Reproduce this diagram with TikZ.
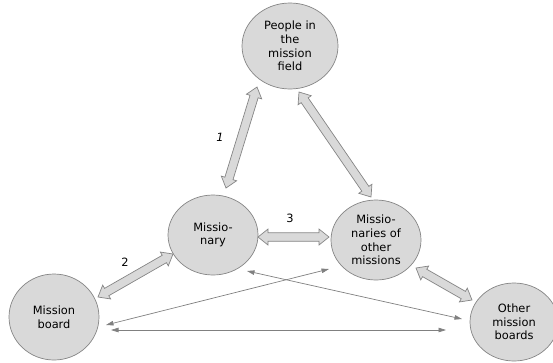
\documentclass[tikz,border=0pt]{standalone}
\usepackage{fontspec}
\setmainfont{DejaVu Sans}
\usetikzlibrary{calc,arrows.meta,shapes.geometric}
\definecolor{fillg}{HTML}{D9D9D9}
\definecolor{lineg}{HTML}{858585}
\definecolor{arrg}{HTML}{808080}
\newcommand\blockarrow[2]{%
  \coordinate (ba-h1) at ($(#1)!10pt!(#2)$);
  \coordinate (ba-h2) at ($(#2)!10pt!(#1)$);
  \draw[barrowstyle] (#1) -- ($(ba-h1)!8pt!90:(#2)$) -- ($(ba-h1)!4.25pt!90:(#2)$)
    -- ($(ba-h2)!4.25pt!-90:(#1)$) -- ($(ba-h2)!8pt!-90:(#1)$) -- (#2)
    -- ($(ba-h2)!8pt!90:(#1)$) -- ($(ba-h2)!4.25pt!90:(#1)$)
    -- ($(ba-h1)!4.25pt!-90:(#2)$) -- ($(ba-h1)!8pt!-90:(#2)$) -- cycle;}
\begin{document}
\begin{tikzpicture}[x=1pt,y=-1pt,
  entity/.style={ellipse, draw=lineg, fill=fillg, line width=0.7pt, inner sep=0pt,
    align=center, font=\fontsize{11.4}{13.6}\selectfont},
  barrowstyle/.style={draw=lineg, fill=fillg, line width=0.7pt, line join=miter},
  thinarrow/.style={draw=arrg, line width=0.7pt, {Triangle[length=7.5pt,width=4.5pt]}-{Triangle[length=7.5pt,width=4.5pt]}},
  lab/.style={font=\fontsize{11.4}{13.6}\selectfont, inner sep=0pt}]
\useasboundingbox (0,0) rectangle (553,362);
\node[entity, minimum width=96pt, minimum height=86pt] (ppl) at (290,46) {People in\\the\\mission\\field};
\node[entity, minimum width=90pt, minimum height=80pt] (miss) at (213,235) {Missio-\\nary};
\node[entity, minimum width=90pt, minimum height=80pt] (mom) at (376,240) {Missio-\\naries of\\other\\missions};
\node[entity, minimum width=90pt, minimum height=86pt] (mb) at (54,317) {Mission\\board};
\node[entity, minimum width=88pt, minimum height=78pt] (omb) at (514,322) {Other\\mission\\boards};
% block arrow end points
\coordinate (b1a) at (257,87);  \coordinate (b1b) at (226,188);
\coordinate (b2a) at (299,92);  \coordinate (b2b) at (371,197);
\coordinate (b3a) at (258,237); \coordinate (b3b) at (329,237);
\coordinate (b4a) at (98,297);  \coordinate (b4b) at (173,254);
\coordinate (b5a) at (416,268); \coordinate (b5b) at (472,300);
\blockarrow{b1a}{b1b}
\blockarrow{b2a}{b2b}
\blockarrow{b3a}{b3b}
\blockarrow{b4a}{b4b}
\blockarrow{b5a}{b5b}
% thin arrows
\coordinate (t1a) at (106,325); \coordinate (t1b) at (329,269);
\coordinate (t2a) at (247,271); \coordinate (t2b) at (462,319);
\coordinate (t3a) at (111,330); \coordinate (t3b) at (446,330);
\draw[thinarrow] (t1a) -- (t1b);
\draw[thinarrow] (t2a) -- (t2b);
\draw[thinarrow] (t3a) -- (t3b);
% labels
\node[lab, font=\fontsize{11.4}{13.6}\selectfont\itshape] (l1) at (220,137) {1};
\node[lab] (l2) at (125,262) {2};
\node[lab] (l3) at (290,218) {3};
\end{tikzpicture}
\end{document}
